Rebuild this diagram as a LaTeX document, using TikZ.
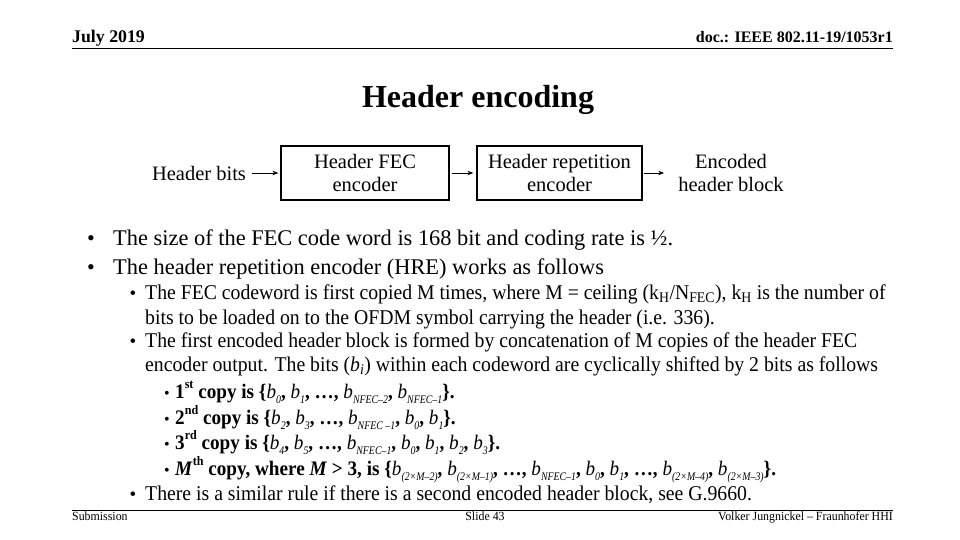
\documentclass[tikz,border=0pt]{standalone}
\usepackage{fontspec}
\setmainfont{Liberation Serif}
\newfontfamily\condf[FakeStretch=0.94]{Liberation Serif}
\newfontfamily\condc[FakeStretch=0.93]{Liberation Serif}
\newfontfamily\condh[FakeStretch=0.95]{Liberation Serif}
\newfontfamily\condsub[FakeStretch=0.85]{Liberation Serif}
\usetikzlibrary{arrows.meta}
\newcommand\bb[1]{\textit{\mdseries b}\raisebox{-0.28em}{\condsub\mdseries\itshape\fontsize{11.6}{12}\selectfont #1}}
\newcommand\supx[1]{\raisebox{0.45em}{\fontsize{13}{13}\selectfont #1}}
\begin{document}
\begin{tikzpicture}[x=1pt,y=-1pt,
  hdr/.style={inner sep=0, font=\bfseries\fontsize{16}{18}\selectfont},
  ftr/.style={inner sep=0, font=\condh\fontsize{12.5}{14}\selectfont},
  ttl/.style={inner sep=0, font=\bfseries\fontsize{32}{36}\selectfont},
  lvla/.style={anchor=base west, inner sep=0, font=\fontsize{22.4}{26}\selectfont},
  lvlb/.style={anchor=base west, inner sep=0, font=\condf\fontsize{21}{24}\selectfont},
  lvlc/.style={anchor=base west, inner sep=0, font=\condc\bfseries\fontsize{20.6}{24}\selectfont},
  dotb/.style={anchor=base, inner sep=0, font=\fontsize{16}{18}\selectfont},
  blk/.style={draw, line width=1.2pt, minimum width=168pt, minimum height=54pt, align=center, inner sep=0, font=\fontsize{20.5}{23}\selectfont},
  lbl/.style={align=center, font=\fontsize{20.5}{23}\selectfont},
  arr/.style={-{Stealth[length=6pt,width=4.5pt]}, line width=0.9pt},
  rule/.style={line width=1.4pt}]
\useasboundingbox (0,0) rectangle (960,540);
% header / footer
\node[hdr, anchor=base west, font=\bfseries\fontsize{17.8}{20}\selectfont] (date) at (72,42.5) {July 2019};
\node[hdr, anchor=base east] (doc) at (893,42.5) {doc.: IEEE 802.11-19/1053r1};
\coordinate (hl) at (72,48.5); \coordinate (hr) at (893,48.5);
\draw[rule] (hl) -- (hr);
\coordinate (fl) at (72,510.5); \coordinate (fr) at (893,510.5);
\draw[rule] (fl) -- (fr);
\node[ftr, anchor=base west] (sub) at (72,520) {Submission};
\node[ftr, anchor=base] (slide) at (485,520) {Slide 43};
\node[ftr, anchor=base east] (auth) at (893,520) {Volker Jungnickel – Fraunhofer HHI};
% title
\node[ttl, anchor=base] (title) at (478,107.5) {Header encoding};
% diagram
\node[lbl, inner xsep=6pt] (hb) at (199,173) {Header bits};
\node[blk] (fec) at (365,173) {Header FEC\\encoder};
\node[blk, minimum width=165pt] (hre) at (559.5,173) {Header repetition\\encoder};
\node[lbl, inner xsep=12pt] (out) at (731,173) {Encoded\\header block};
\draw[arr, shorten >=2pt] (hb) -- (fec);
\draw[arr, shorten <=2.5pt, shorten >=3pt] (fec) -- (hre);
\draw[arr, shorten <=1pt, shorten >=2pt] (hre) -- (out);
% level 1 bullets
\node[dotb, font=\fontsize{22}{26}\selectfont] (d1) at (91,245) {•};
\node[lvla] (t1) at (113,245) {The size of the FEC code word is 168 bit and coding rate is ½.};
\node[dotb, font=\fontsize{22}{26}\selectfont] (d2) at (91,274) {•};
\node[lvla] (t2) at (113,274) {The header repetition encoder (HRE) works as follows};
% level 2 bullets
\node[dotb, font=\fontsize{19}{22}\selectfont] (d3) at (133,299) {•};
\node[lvlb] (t3) at (145,299) {The FEC codeword is first copied M times, where M = ceiling (k\textsubscript{H}/N\textsubscript{FEC}), k\textsubscript{H} is the number of};
\node[lvlb] (t4) at (145,324) {bits to be loaded on to the OFDM symbol carrying the header (i.e. 336).};
\node[dotb, font=\fontsize{19}{22}\selectfont] (d5) at (133,347) {•};
\node[lvlb] (t5) at (145,347) {The first encoded header block is formed by concatenation of M copies of the header FEC};
\node[lvlb] (t6) at (145,371) {encoder output. The bits (\textit{b\textsubscript{i}}) within each codeword are cyclically shifted by 2 bits as follows};
% level 3 bullets
\node[dotb] (d7) at (167,398) {•};
\node[lvlc] (t7) at (175,398) {1\supx{st} copy is \{\bb{0}, \bb{1}, …, \bb{NFEC–2}, \bb{NFEC–1}\}.};
\node[dotb] (d8) at (167,424) {•};
\node[lvlc] (t8) at (175,424) {2\supx{nd} copy is \{\bb{2}, \bb{3}, …, \bb{NFEC –1}, \bb{0}, \bb{1}\}.};
\node[dotb] (d9) at (167,449) {•};
\node[lvlc] (t9) at (175,449) {3\supx{rd} copy is \{\bb{4}, \bb{5}, …, \bb{NFEC–1}, \bb{0}, \bb{1}, \bb{2}, \bb{3}\}.};
\node[dotb] (d10) at (167,475) {•};
\node[lvlc] (t10) at (175,475) {\textit{M}\supx{th} copy, where \textit{M} > 3, is \{\bb{(2×M–2)}, \bb{(2×M–1)}, …, \bb{NFEC–1}, \bb{0}, \bb{1}, …, \bb{(2×M–4)}, \bb{(2×M–3)}\}.};
% last level 2 bullet
\node[dotb, font=\fontsize{19}{22}\selectfont] (d11) at (133,500) {•};
\node[lvlb] (t11) at (145,500) {There is a similar rule if there is a second encoded header block, see G.9660.};
\end{tikzpicture}
\end{document}
